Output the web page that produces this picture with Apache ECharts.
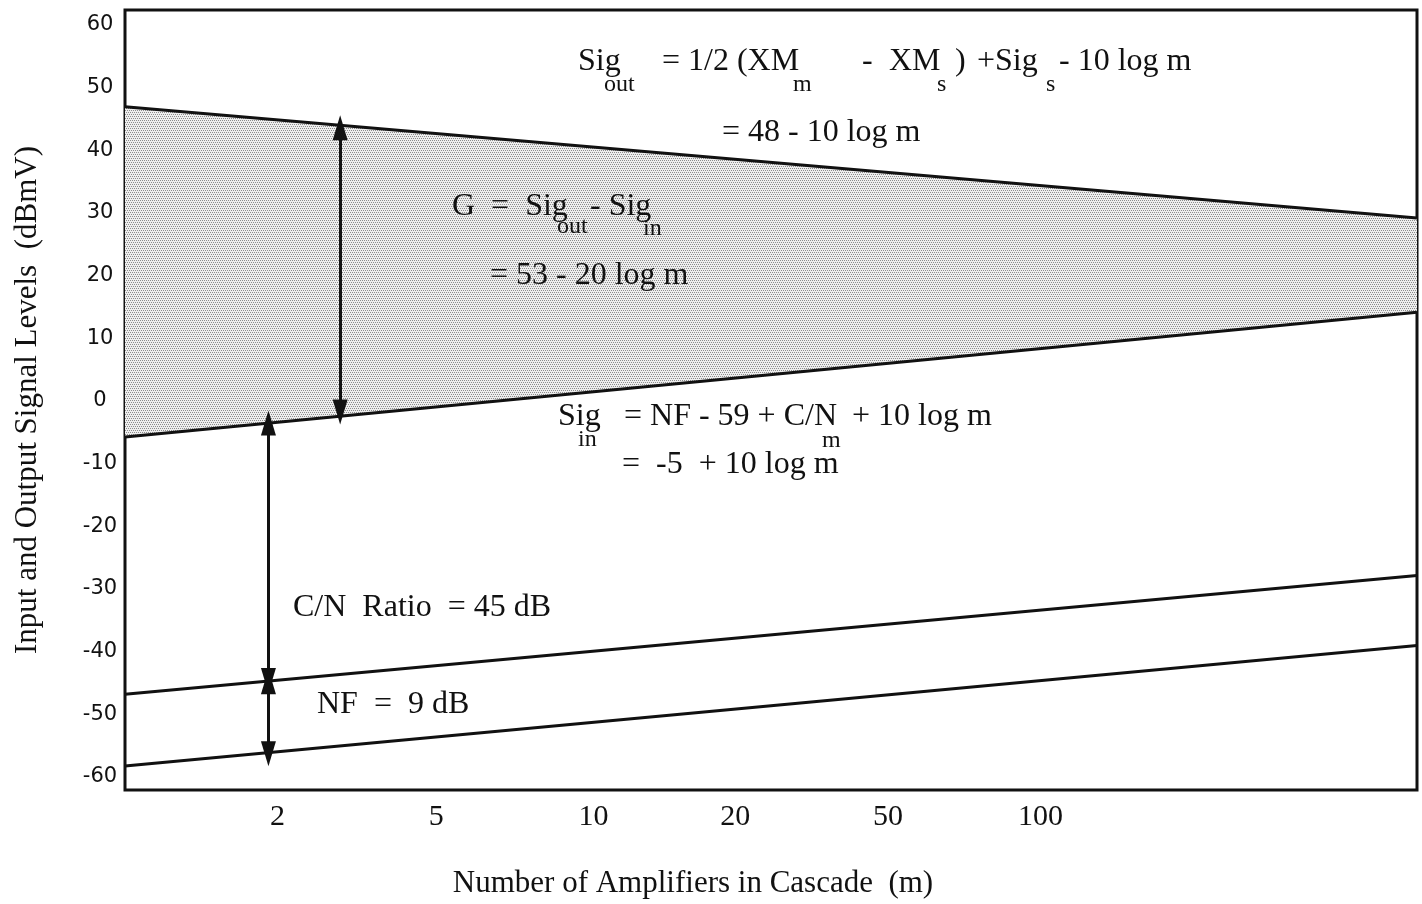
<!DOCTYPE html>
<html>
<head>
<meta charset="utf-8">
<script src="https://cdn.jsdelivr.net/npm/echarts@6/dist/echarts.min.js"></script>
<style>
  html, body { margin: 0; padding: 0; background: #ffffff; }
  #chart { width: 1422px; height: 904px; }
</style>
</head>
<body>
<div id="chart"></div>
<script>
// ---- data ----
// x positions are in "decade-ish" units along the hand-drawn axis
var xTickPos    = [1.0, 2.04, 3.07, 4.0, 5.0, 6.0];
var xTickLabels = ['2', '5', '10', '20', '50', '100'];
var yTickValues = [-60, -50, -40, -30, -20, -10, 0, 10, 20, 30, 40, 50, 60];
var xEnds  = [0, 8.467];               // line end points (left/right frame)
var sigOut = [46.95, 29.2];            // Sig_out = 48 - 10 log m
var sigIn  = [-5.73, 14.17];           // Sig_in = -5 + 10 log m
var cnLine = [-46.8, -27.85];          // carrier-to-noise reference
var nfLine = [-58.25, -39.0];          // noise floor
// double-headed arrows: [x, yFrom, yTo]
var arrowGain = [1.41, 43.6, -1.75];
var arrowCN   = [0.94, -3.5, -44.6];
var arrowNF   = [0.94, -44.8, -56.3];

// ---- styles ----
var SERIF = "'Liberation Serif', 'Times New Roman', serif";
var INK = '#111111';

function stipple() {
  var c = document.createElement('canvas');
  c.width = 4; c.height = 4;
  var g = c.getContext('2d');
  g.fillStyle = '#eeeeee';
  g.fillRect(0, 0, 4, 4);
  g.fillStyle = '#8c8c8c';
  g.fillRect(0, 0, 1, 1);
  g.fillRect(2, 0, 1, 1);
  g.fillRect(1, 2, 1, 1);
  g.fillRect(3, 2, 1, 1);
  return c;
}
var pattern = { image: stipple(), repeat: 'repeat' };

function pairs(ys) { return xEnds.map(function (x, i) { return [x, ys[i]]; }); }

function txt(text, x, y, size) {
  return {
    type: 'text', x: x, y: y, silent: true, z: 100,
    style: { text: text, fill: INK, font: (size || 32) + 'px ' + SERIF, align: 'left', verticalAlign: 'middle' }
  };
}

function arrow(a) {
  return [{ coord: [a[0], a[1]] }, { coord: [a[0], a[2]] }];
}

var lineStyle = { color: INK, width: 3 };

var chart = echarts.init(document.getElementById('chart'), null, { renderer: 'canvas' });
chart.setOption({
  backgroundColor: '#ffffff',
  animation: false,
  grid: { left: 125, right: 5, top: 10, bottom: 112, show: true, borderColor: INK, borderWidth: 3, backgroundColor: 'transparent' },
  xAxis: {
    type: 'value', min: 0, max: xEnds[1],
    axisLine: { show: false }, axisTick: { show: false }, splitLine: { show: false },
    axisLabel: {
      customValues: xTickPos, margin: 12, color: INK, fontFamily: SERIF, fontSize: 30,
      formatter: function (v) { var i = xTickPos.indexOf(v); return i >= 0 ? xTickLabels[i] : ''; }
    },
    name: 'Number of Amplifiers in Cascade  (m)', nameLocation: 'middle', nameGap: 78,
    nameTextStyle: { color: INK, fontFamily: SERIF, fontSize: 31, padding: [0, 156, 0, 0] }
  },
  yAxis: {
    type: 'value', min: -62.07, max: 62.39,
    axisLine: { show: false }, axisTick: { show: false }, splitLine: { show: false },
    axisLabel: {
      customValues: yTickValues, margin: 25, align: 'center', color: INK,
      fontFamily: "'DejaVu Sans', sans-serif", fontSize: 21
    },
    name: 'Input and Output Signal Levels  (dBmV)', nameLocation: 'middle', nameRotate: 90, nameGap: 82,
    nameTextStyle: { color: INK, fontFamily: SERIF, fontSize: 31 }
  },
  series: [
    {
      type: 'custom', name: 'gain band', silent: true, z: 1,
      data: xEnds.map(function (x, i) { return [x, sigIn[i], sigOut[i]]; }),
      renderItem: function (params, api) {
        if (params.dataIndex !== 0) return null;
        var top = xEnds.map(function (x, i) { return api.coord([x, sigOut[i]]); });
        var bot = xEnds.map(function (x, i) { return api.coord([x, sigIn[i]]); }).reverse();
        return { type: 'polygon', shape: { points: top.concat(bot) }, style: { fill: pattern, stroke: null } };
      }
    },
    { type: 'line', name: 'Sig out', data: pairs(sigOut), symbol: 'none', lineStyle: lineStyle, z: 3 },
    { type: 'line', name: 'Sig in', data: pairs(sigIn), symbol: 'none', lineStyle: lineStyle, z: 3 },
    { type: 'line', name: 'C/N', data: pairs(cnLine), symbol: 'none', lineStyle: lineStyle, z: 3 },
    {
      type: 'line', name: 'NF', data: pairs(nfLine), symbol: 'none', lineStyle: lineStyle, z: 3,
      markLine: {
        silent: true, animation: false,
        symbol: ['triangle', 'triangle'], symbolSize: [15, 25],
        label: { show: false },
        lineStyle: { color: INK, width: 3, type: 'solid' },
        emphasis: { disabled: true },
        data: [arrow(arrowGain), arrow(arrowCN), arrow(arrowNF)]
      }
    }
  ],
  graphic: [
    // Sig_out formula
    txt('Sig', 578, 62), txt('out', 604, 85, 24),
    txt('= 1/2 (XM', 662, 62), txt('m', 793, 85, 24),
    txt('-', 862, 62),
    txt('XM', 889, 62), txt('s', 937, 85, 24),
    txt(')', 955, 62),
    txt('+Sig', 977, 62), txt('s', 1046, 85, 24),
    txt('- 10 log m', 1059, 62),
    txt('= 48 - 10 log m', 722, 133),
    // Gain formula
    txt('G  =  Sig', 452, 207), txt('out', 557, 227, 24),
    txt('- Sig', 590, 207), txt('in', 643, 229, 24),
    txt('= 53 - 20 log m', 490, 276),
    // Sig_in formula
    txt('Sig', 558, 417), txt('in', 578, 440, 24),
    txt('= NF - 59 + C/N', 624, 417), txt('m', 822, 441, 24),
    txt('+ 10 log m', 852, 417),
    txt('=  -5  + 10 log m', 622, 465),
    // C/N and NF
    txt('C/N  Ratio  = 45 dB', 293, 608),
    txt('NF  =  9 dB', 317, 705)
  ]
});
</script>
</body>
</html>
